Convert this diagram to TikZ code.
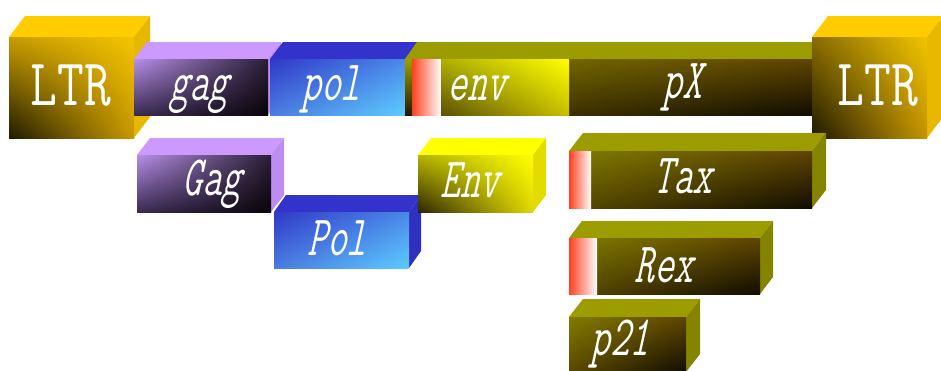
\documentclass[tikz,border=0pt]{standalone}
\usepackage{fontspec}
\usepackage{graphicx}
\usetikzlibrary{shadings}

% face colours
\definecolor{LtrTop}{HTML}{FFCC00}
\definecolor{LtrSide}{HTML}{E8B800}
\definecolor{LtrUL}{HTML}{C89C00}
\definecolor{LtrUR}{HTML}{F4C400}
\definecolor{LtrLL}{HTML}{1E1A00}
\definecolor{LtrLR}{HTML}{C89800}
\definecolor{LtrbUL}{HTML}{8A6C00}
\definecolor{LtrbUR}{HTML}{F0C400}
\definecolor{LtrbLL}{HTML}{1C1800}
\definecolor{LtrbLR}{HTML}{C49400}
\definecolor{GagTop}{HTML}{CC99FF}
\definecolor{GagSide}{HTML}{BC8CF0}
\definecolor{GagUL}{HTML}{B890E8}
\definecolor{GagUR}{HTML}{2A1E36}
\definecolor{GagLL}{HTML}{3A2A52}
\definecolor{GagLR}{HTML}{080408}
\definecolor{PolTop}{HTML}{3333CC}
\definecolor{PolSide}{HTML}{3030C0}
\definecolor{PolUL}{HTML}{3038C8}
\definecolor{PolUR}{HTML}{4A88E8}
\definecolor{PolLL}{HTML}{4A7CE0}
\definecolor{PolLR}{HTML}{5CCCFF}
\definecolor{OliveTop}{HTML}{9C9C00}
\definecolor{OliveSide}{HTML}{848400}
\definecolor{OliveUL}{HTML}{807C00}
\definecolor{OliveUR}{HTML}{604400}
\definecolor{OliveLL}{HTML}{5A4800}
\definecolor{OliveLR}{HTML}{100C00}
\definecolor{EnvTop}{HTML}{FFFF00}
\definecolor{EnvSide}{HTML}{E4DC00}
\definecolor{EnvUL}{HTML}{B4B400}
\definecolor{EnvUR}{HTML}{FFFF00}
\definecolor{EnvLL}{HTML}{2C2400}
\definecolor{EnvLR}{HTML}{E0D800}
\definecolor{BarEnvUL}{HTML}{B0B000}
\definecolor{BarEnvLL}{HTML}{5A5000}
\definecolor{BarEnvLR}{HTML}{C8C000}
\definecolor{StripeRed}{HTML}{FF4020}
\definecolor{EdgeTop}{HTML}{A0A000}
\definecolor{EdgeBottom}{HTML}{201800}

\tikzset{
  % one style triple (top / side / front) per colour scheme
  ltrtop/.style={fill=LtrTop},
  ltrside/.style={fill=LtrSide},
  ltrfront/.style={upper left=LtrUL, upper right=LtrUR, lower left=LtrLL, lower right=LtrLR},
  ltrbtop/.style={fill=LtrTop},
  ltrbside/.style={fill=LtrSide},
  ltrbfront/.style={upper left=LtrbUL, upper right=LtrbUR, lower left=LtrbLL, lower right=LtrbLR},
  gagtop/.style={fill=GagTop},
  gagside/.style={fill=GagSide},
  gagfront/.style={upper left=GagUL, upper right=GagUR, lower left=GagLL, lower right=GagLR},
  poltop/.style={fill=PolTop},
  polside/.style={fill=PolSide},
  polfront/.style={upper left=PolUL, upper right=PolUR, lower left=PolLL, lower right=PolLR},
  olivetop/.style={fill=OliveTop},
  oliveside/.style={fill=OliveSide},
  olivefront/.style={upper left=OliveUL, upper right=OliveUR, lower left=OliveLL, lower right=OliveLR},
  envtop/.style={fill=EnvTop},
  envside/.style={fill=EnvSide},
  envfront/.style={upper left=EnvUL, upper right=EnvUR, lower left=EnvLL, lower right=EnvLR},
  barenv/.style={upper left=BarEnvUL, upper right=EnvUR, lower left=BarEnvLL, lower right=BarEnvLR},
  redstripe/.style={left color=StripeRed, right color=white},
  % slanted labels: upright typewriter face, sheared
  lab/.style={text=white, inner sep=0pt, anchor=base, xslant=0.22, transform shape,
    font=\ttfamily\fontsize{38}{38}\selectfont},
  ltrlab/.style={text=white, inner sep=0pt,
    font=\ttfamily\fontsize{52}{52}\selectfont},
}

% a block with front face (x0,y0)-(x1,y1), depth (dx,dy) and a colour scheme
\newcommand\slab[7]{%
  \fill[#7top] (#1,#2) -- (#1+#5,#2-#6) -- (#3+#5,#2-#6) -- (#3,#2) -- cycle;
  \fill[#7side] (#3,#2) -- (#3+#5,#2-#6) -- (#3+#5,#4-#6) -- (#3,#4) -- cycle;
  \shade[#7front] (#1,#2) rectangle (#3,#4);
}
\newcommand\tall[1]{\scalebox{1}[1.5]{#1}}
\newcommand\talll[1]{\scalebox{1}[1.28]{#1}}

\begin{document}
\begin{tikzpicture}[x=1pt,y=-1pt]
\useasboundingbox (0,0) rectangle (941,370);
\clip (0,0) rectangle (941,370);

% ---- genome row ----
\slab{9}{37}{134}{138}{16}{21}{ltr}
\slab{134}{59}{268}{115}{13}{17}{gag}
\slab{270}{59}{405}{115}{13}{17}{pol}
\slab{405}{59}{812}{115}{12}{17}{olive}
% env segment of the olive bar, with its leading stripe
\shade[top color=EdgeTop, bottom color=EdgeBottom] (405,59) rectangle (412,115);
\shade[redstripe] (412,59) rectangle (441,115);
\shade[barenv] (441,59) rectangle (569,115);
\slab{812}{37}{927}{138}{16}{21}{ltrb}

\node[ltrlab] (ltrleft) at (71,86) {\talll{LTR}};
\node[lab] (gene-gag) at (199,100) {\tall{gag}};
\node[lab] (gene-pol) at (331,100) {\tall{pol}};
\node[lab] (gene-env) at (477,100) {\tall{env}};
\node[lab] (gene-px) at (682,98) {\tall{pX}};
\node[ltrlab] (ltrright) at (878,86) {\talll{LTR}};

% ---- protein products ----
\slab{274}{212}{409}{268}{12}{17}{pol}
\slab{137}{155}{271}{212}{13}{17}{gag}
\slab{418}{155}{533}{212}{13}{17}{env}
\slab{569}{151}{812}{208}{14}{18}{olive}
\shade[redstripe] (569,151) rectangle (591,208);
\slab{569}{238}{760}{294}{13}{17}{olive}
\shade[redstripe] (569,238) rectangle (597,294);
\slab{569}{317}{686}{372}{14}{18}{olive}

\node[lab] (prot-gag) at (212,195) {\tall{Gag}};
\node[lab] (prot-pol) at (337,255) {\tall{Pol}};
\node[lab] (prot-env) at (470,197) {\tall{Env}};
\node[lab] (prot-tax) at (683,193) {\tall{Tax}};
\node[lab] (prot-rex) at (664,282) {\tall{Rex}};
\node[lab] (prot-p21) at (620,355) {\tall{p21}};
\end{tikzpicture}
\end{document}
